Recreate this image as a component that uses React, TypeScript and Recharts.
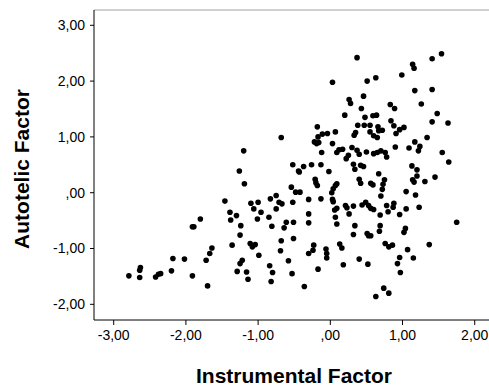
import { ScatterChart, Scatter, XAxis, YAxis, ReferenceLine } from 'recharts';

type Pt = [number, number];

// [instrumental, autotelic] factor scores, grouped by instrumental band
const farLeft: Pt[] = [
  [-1.8, -0.47], [-1.91, -0.61], [-1.89, -0.61], [-1.64, -0.99], [-1.67, -1.09],
  [-2.18, -1.18], [-2.02, -1.19], [-1.72, -1.21], [-2.63, -1.34], [-2.64, -1.39],
  [-2.2, -1.4], [-2.79, -1.49], [-2.64, -1.52], [-2.42, -1.51], [-2.38, -1.46],
  [-2.35, -1.45], [-1.91, -1.49], [-1.7, -1.67],
];

const midLeft: Pt[] = [
  [-0.68, 0.99], [-1.2, 0.75], [-0.52, 0.5], [-1.26, 0.39], [-1.19, 0.16],
  [-0.54, 0.1], [-0.75, -0.05], [-1.46, -0.15], [-0.83, -0.11], [-0.71, -0.17],
  [-0.67, -0.2], [-0.52, -0.17], [-1.1, -0.19], [-1.0, -0.17], [-1.06, -0.29],
  [-0.96, -0.35], [-0.75, -0.29], [-1.39, -0.35], [-1.3, -0.41], [-1.38, -0.49],
  [-1.24, -0.59], [-1.01, -0.47], [-0.85, -0.44], [-0.51, -0.53], [-0.61, -0.53],
  [-0.64, -0.63], [-0.81, -0.6], [-0.51, -0.82], [-0.68, -0.86], [-1.25, -0.76],
  [-1.36, -0.94], [-1.11, -0.91], [-1.08, -0.97], [-1.04, -0.93], [-0.69, -1.04],
  [-0.99, -1.12], [-1.22, -1.21], [-1.25, -1.27], [-0.58, -1.22], [-0.84, -1.31],
  [-0.8, -1.43], [-1.29, -1.41], [-1.16, -1.42], [-0.53, -1.45], [-1.14, -1.55],
  [-0.82, -1.59],
];

const centre: Pt[] = [
  [0.37, 2.42], [0.03, 1.98], [0.46, 1.73], [0.26, 1.67], [0.28, 1.6],
  [0.43, 1.51], [0.2, 1.39], [0.48, 1.35], [0.38, 1.21], [0.47, 1.21],
  [-0.18, 1.18], [0.35, 1.08], [0.33, 1.03], [0.07, 1.09], [-0.11, 1.05],
  [-0.04, 1.06], [-0.17, 1.0], [-0.22, 0.91], [-0.19, 0.88], [-0.16, 0.9],
  [0.03, 0.88], [0.3, 0.81], [0.12, 0.77], [0.17, 0.78], [0.09, 0.72],
  [0.37, 0.76], [0.4, 0.69], [-0.12, 0.72], [0.25, 0.67], [0.22, 0.61],
  [-0.37, 0.47], [-0.44, 0.39], [-0.43, 0.37], [-0.26, 0.5], [-0.13, 0.5],
  [-0.02, 0.38], [0.32, 0.51], [0.34, 0.42], [0.42, 0.49], [0.46, 0.47],
  [-0.21, 0.24], [-0.2, 0.18], [-0.18, 0.13], [0.4, 0.24], [0.42, 0.17],
  [0.09, 0.16], [0.07, 0.13], [0.04, 0.07], [0.02, 0.0], [-0.48, 0.01],
  [-0.42, 0.01], [-0.3, -0.12], [-0.13, -0.11], [0.03, -0.12], [0.04, -0.16],
  [0.21, -0.23], [0.23, -0.27], [0.32, -0.24], [0.44, -0.22], [0.49, -0.17],
  [0.09, -0.28], [0.06, -0.31], [0.26, -0.38], [-0.3, -0.38], [-0.3, -0.54],
  [0.07, -0.44], [0.09, -0.56], [0.34, -0.59], [0.32, -0.75], [-0.23, -0.94],
  [-0.24, -1.03], [0.13, -0.92], [0.16, -0.99], [-0.06, -1.01], [-0.05, -1.09],
  [-0.05, -1.17], [-0.3, -1.09], [0.4, -1.19], [0.18, -1.29], [-0.17, -1.37],
  [-0.36, -1.68],
];

const right: Pt[] = [
  [1.54, 2.49], [1.41, 2.4], [1.14, 2.3], [1.16, 2.23], [0.99, 2.11],
  [0.63, 2.06], [0.51, 2.0], [1.17, 1.83], [1.41, 1.85], [1.26, 1.59],
  [0.83, 1.58], [0.89, 1.51], [1.48, 1.42], [0.59, 1.38], [0.64, 1.39],
  [0.84, 1.29], [1.41, 1.27], [1.63, 1.25], [0.55, 1.21], [0.66, 1.18],
  [0.88, 1.2], [1.02, 1.17], [0.96, 1.13], [0.67, 1.11], [0.72, 1.12],
  [0.55, 1.09], [0.91, 1.06], [0.6, 1.02], [0.65, 0.99], [1.34, 0.99],
  [1.17, 0.91], [1.09, 0.8], [1.24, 0.83], [0.9, 0.82], [0.5, 0.73],
  [0.6, 0.7], [0.65, 0.72], [0.7, 0.75], [0.76, 0.72], [1.22, 0.75],
  [1.55, 0.72], [0.78, 0.64], [1.64, 0.55], [1.13, 0.48], [0.67, 0.34],
  [1.2, 0.41], [1.2, 0.3], [1.45, 0.28], [1.31, 0.2], [1.14, 0.23],
  [1.16, 0.19], [0.56, 0.17], [0.59, 0.14], [0.75, 0.23], [0.73, 0.15],
  [0.72, 0.06], [1.05, 0.02], [0.7, -0.06], [1.18, -0.04], [0.53, -0.23],
  [0.56, -0.28], [0.6, -0.3], [0.78, -0.23], [0.88, -0.19], [0.87, -0.26],
  [1.05, -0.29], [1.23, -0.26], [0.8, -0.34], [0.96, -0.39], [0.69, -0.4],
  [0.69, -0.59], [1.75, -0.53], [1.04, -0.64], [1.02, -0.71], [0.51, -0.73],
  [0.53, -0.77], [0.56, -0.77], [0.68, -0.69], [0.76, -0.91], [0.81, -0.97],
  [0.86, -0.94], [1.37, -0.93], [1.07, -1.02], [0.96, -1.16], [1.15, -1.17],
  [0.93, -1.27], [0.52, -1.28], [0.97, -1.43], [0.74, -1.71], [0.81, -1.8],
  [0.63, -1.86],
];

const xTicks = [-3, -2, -1, 0, 1, 2];
const yTicks = [-2, -1, 0, 1, 2, 3];
const X_DOMAIN: [number, number] = [-3.273, 2.35];
const Y_DOMAIN: [number, number] = [-2.281, 3.274];

const data = [...farLeft, ...midLeft, ...centre, ...right].map(([x, y]) => ({ x, y }));

const FONT = '"Liberation Sans", Arial, sans-serif';

// SPSS style: 0 -> ",00", decimal comma
const fmt = (v: number) => (v === 0 ? ',00' : v.toFixed(2).replace('.', ','));

const Dot = (p: any) => <circle cx={p.cx} cy={p.cy} r={2.8} fill="#000" />;

export default function App() {
  return (
    <div
      style={{
        position: 'fixed',
        left: 0,
        top: 0,
        width: 489,
        height: 387,
        overflow: 'hidden',
        background: '#fff',
      }}
    >
      <ScatterChart
        width={500}
        height={387}
        margin={{ top: 10, right: 0, bottom: 0, left: 0 }}
        style={{ fontFamily: FONT }}
      >
        <XAxis
          type="number"
          dataKey="x"
          domain={X_DOMAIN}
          ticks={xTicks}
          allowDataOverflow
          tickFormatter={fmt}
          height={67}
          tickSize={5}
          tickMargin={5}
          stroke="#000"
          tick={{ fill: '#000', fontSize: 14 }}
          label={{
            content: (props: any) => {
              const vb = props.viewBox || { x: 94, y: 320, width: 406, height: 67 };
              return (
                <text
                  x={vb.x + vb.width / 2 - 3}
                  y={vb.y + 63}
                  textAnchor="middle"
                  fontSize={21}
                  fontWeight="bold"
                  fill="#000"
                >
                  Instrumental Factor
                </text>
              );
            },
          }}
        />
        <YAxis
          type="number"
          dataKey="y"
          domain={Y_DOMAIN}
          ticks={yTicks}
          allowDataOverflow
          tickFormatter={fmt}
          width={94}
          tickSize={4}
          tickMargin={5}
          stroke="#000"
          tick={{ fill: '#000', fontSize: 14 }}
          label={{
            content: (props: any) => {
              const vb = props.viewBox || { x: 0, y: 10, width: 94, height: 310 };
              const bx = vb.x + 29;
              const cy = vb.y + vb.height / 2 + 4;
              return (
                <text
                  x={bx}
                  y={cy}
                  transform={`rotate(-90 ${bx} ${cy})`}
                  textAnchor="middle"
                  fontSize={21}
                  fontWeight="bold"
                  fill="#000"
                >
                  Autotelic Factor
                </text>
              );
            },
          }}
        />
        <ReferenceLine y={Y_DOMAIN[1]} stroke="#c0c0c0" strokeWidth={1.5} />
        <Scatter data={data} shape={Dot} isAnimationActive={false} />
      </ScatterChart>
    </div>
  );
}
